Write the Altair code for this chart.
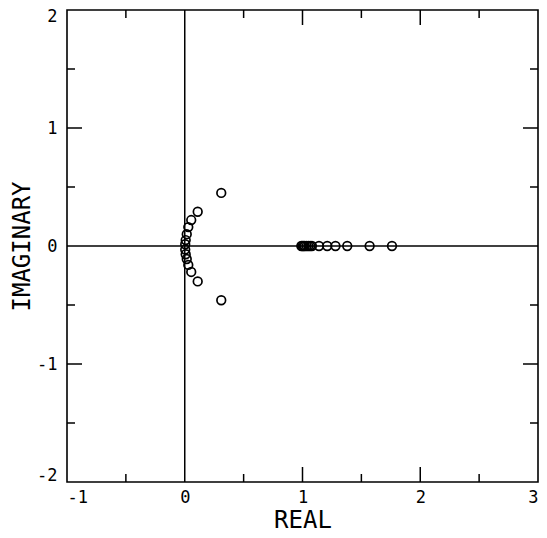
import altair as alt
import pandas as pd

# Roots (real, imaginary)
arc_re = [0.31, 0.11, 0.055, 0.03, 0.017, 0.008, 0.004, 0.004, 0.008, 0.017, 0.03, 0.055, 0.11, 0.31]
arc_im = [0.45, 0.29, 0.22, 0.16, 0.10, 0.05, 0.015, -0.03, -0.07, -0.11, -0.16, -0.22, -0.30, -0.46]
axis_re = [0.99, 1.0, 1.01, 1.02, 1.035, 1.05, 1.065, 1.08, 1.14, 1.21, 1.28, 1.38, 1.57, 1.76]
axis_im = [0.0] * len(axis_re)

x_major = [1, 2]
x_minor = [-0.5, 0.5, 1.5, 2.5]
y_major = [-1, 1]
y_minor = [-1.5, -0.5, 0.5, 1.5]
x_labels = [-1, 0, 1, 2, 3]
y_labels = [-2, -1, 0, 1, 2]

W, H = 471, 472
FONT = "DejaVu Sans Mono"
LABEL_EXPR = "datum.value < 0 ? '-' + abs(datum.value) : '' + datum.value"

pts = pd.DataFrame({"re": arc_re + axis_re, "im": arc_im + axis_im})

xs = alt.Scale(domain=[-1, 3], nice=False, zero=False)
ys = alt.Scale(domain=[-2, 2], nice=False, zero=False)

x_axis = alt.Axis(
    values=x_labels, title="REAL", grid=False, ticks=False, domain=False,
    labelExpr=LABEL_EXPR,
    labelFont=FONT, labelFontSize=17, labelColor="black", labelPadding=7,
    titleFont=FONT, titleFontSize=24, titleFontWeight="normal", titleColor="black",
    titleY=38, titleBaseline="middle")
y_axis = alt.Axis(
    values=y_labels, title="IMAGINARY", grid=False, ticks=False, domain=False,
    labelExpr=LABEL_EXPR,
    labelFont=FONT, labelFontSize=17, labelColor="black", labelPadding=10,
    labelFlush=True, labelFlushOffset=2,
    titleFont=FONT, titleFontSize=24, titleFontWeight="normal", titleColor="black",
    titleX=-45, titleY=H / 2, titleAngle=-90, titleAlign="center",
    titleBaseline="middle")


def X():
    return alt.X("re:Q", scale=xs, axis=x_axis)


def Y():
    return alt.Y("im:Q", scale=ys, axis=y_axis)


points = alt.Chart(pts).mark_point(
    shape="circle", filled=False, color="black", strokeWidth=1.7, size=75, opacity=1
).encode(x=X(), y=Y())

zx = alt.Chart(pd.DataFrame({"re": [0]})).mark_rule(color="black", strokeWidth=1.5).encode(x=X())
zy = alt.Chart(pd.DataFrame({"im": [0]})).mark_rule(color="black", strokeWidth=1.5).encode(y=Y())


def xticks(vals, length):
    d = pd.DataFrame({"re": vals})
    base = alt.Chart(d).mark_rule(color="black", strokeWidth=1.5)
    bot = base.encode(x=X(), y=alt.value(H), y2=alt.value(H - length))
    top = base.encode(x=X(), y=alt.value(0), y2=alt.value(length))
    return [bot, top]


def yticks(vals, length):
    d = pd.DataFrame({"im": vals})
    base = alt.Chart(d).mark_rule(color="black", strokeWidth=1.5)
    left = base.encode(y=Y(), x=alt.value(0), x2=alt.value(length))
    right = base.encode(y=Y(), x=alt.value(W), x2=alt.value(W - length))
    return [left, right]


layers = [points, zx, zy] + xticks(x_major, 15) + xticks(x_minor, 8) + yticks(y_major, 15) + yticks(y_minor, 8)

chart = alt.layer(*layers).properties(
    width=W, height=H,
    autosize=alt.AutoSizeParams(type="none"),
    padding={"left": 59, "top": 2, "right": 1, "bottom": 52},
    background="white",
).configure_view(stroke="black", strokeWidth=1.6)

chart.save("out.html", embed_options={"renderer": "svg", "actions": False})
